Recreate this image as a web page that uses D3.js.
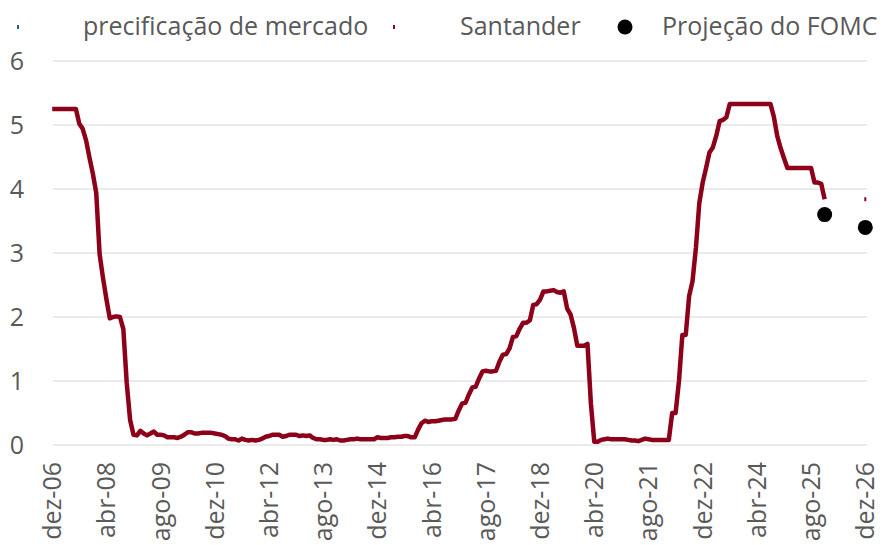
<!DOCTYPE html>
<html>
<head>
<meta charset="utf-8">
<script src="https://cdn.jsdelivr.net/npm/d3@7"></script>
<style>
  body { margin: 0; background: #fff; }
  text { font-family: "Open Sans", "Noto Sans", sans-serif; fill: #595959; }
</style>
</head>
<body>
<svg id="chartSVG" width="887" height="545"></svg>
<script>
// monthly categories, dez-06 .. dez-26
var monthNames = ["jan","fev","mar","abr","mai","jun","jul","ago","set","out","nov","dez"];
var months = [];
for (var i = 0; i <= 240; i++) {
    var m = (11 + i) % 12;
    var yr = 6 + Math.floor((11 + i) / 12);
    months.push(monthNames[m] + "-" + (yr < 10 ? "0" + yr : yr));
}

// tick labels on the x axis
var xTickLabels = ["dez-06","abr-08","ago-09","dez-10","abr-12","ago-13","dez-14","abr-16",
                   "ago-17","dez-18","abr-20","ago-21","dez-22","abr-24","ago-25","dez-26"];
var yTickLabels = [0, 1, 2, 3, 4, 5, 6];

// fed funds line (dez-06 .. dez-25)
var fedFunds = [
    5.25,
    5.25,5.25,5.25,5.25,5.25,5.25,5.25,5.02,4.94,4.76,4.49,4.24,   // 2007
    3.94,2.98,2.61,2.28,1.98,2.00,2.01,2.00,1.81,0.97,0.39,0.16,   // 2008
    0.15,0.22,0.18,0.15,0.18,0.21,0.16,0.16,0.15,0.12,0.12,0.12,   // 2009
    0.11,0.13,0.16,0.20,0.20,0.18,0.18,0.19,0.19,0.19,0.19,0.18,   // 2010
    0.17,0.16,0.14,0.10,0.09,0.09,0.07,0.10,0.08,0.07,0.08,0.07,   // 2011
    0.08,0.10,0.13,0.14,0.16,0.16,0.16,0.13,0.14,0.16,0.16,0.16,   // 2012
    0.14,0.15,0.14,0.15,0.11,0.09,0.09,0.08,0.08,0.09,0.08,0.09,   // 2013
    0.07,0.07,0.08,0.09,0.09,0.10,0.09,0.09,0.09,0.09,0.09,0.12,   // 2014
    0.11,0.11,0.11,0.12,0.12,0.13,0.13,0.14,0.14,0.12,0.12,0.24,   // 2015
    0.34,0.38,0.36,0.37,0.37,0.38,0.39,0.40,0.40,0.40,0.41,0.54,   // 2016
    0.65,0.66,0.79,0.90,0.91,1.04,1.15,1.16,1.15,1.15,1.16,1.30,   // 2017
    1.41,1.42,1.51,1.69,1.70,1.82,1.91,1.91,1.95,2.19,2.20,2.27,   // 2018
    2.40,2.40,2.41,2.42,2.39,2.38,2.40,2.13,2.04,1.83,1.55,1.55,   // 2019
    1.55,1.58,0.65,0.05,0.05,0.08,0.09,0.10,0.09,0.09,0.09,0.09,   // 2020
    0.09,0.08,0.07,0.07,0.06,0.08,0.10,0.09,0.08,0.08,0.08,0.08,   // 2021
    0.08,0.08,0.50,0.50,1.00,1.72,1.72,2.33,2.56,3.08,3.78,4.10,   // 2022
    4.33,4.57,4.65,4.83,5.06,5.08,5.12,5.33,5.33,5.33,5.33,5.33,   // 2023
    5.33,5.33,5.33,5.33,5.33,5.33,5.33,5.33,5.13,4.83,4.64,4.48,   // 2024
    4.33,4.33,4.33,4.33,4.33,4.33,4.33,4.33,4.10,4.10,4.08,3.84    // 2025
];

var fomcMonths = ["dez-25", "dez-26"];
var fomcValues = [3.6, 3.4];
var santanderMonths = ["dez-26"];
var santanderValues = [3.84];
var marketMonths = [];
var marketValues = [];

var lineColor = "#8c0019";
var fontSize = "25px";

var svg = d3.select("#chartSVG");

var xScale = d3.scaleBand()
            .domain(months)
            .range([50.5, 867])
            .padding(0);

var xPos = function(m){ return xScale(m) + xScale.bandwidth() / 2; };

var yScale = d3.scaleLinear()
            .domain([0, 6])
            .range([445, 61]);

// gridlines
svg.append("g")
    .attr("class", "grid")
    .selectAll("line")
    .data(yTickLabels).enter()
    .append("line")
    .attr("x1", 53).attr("x2", 867)
    .attr("y1", function(d){ return yScale(d); })
    .attr("y2", function(d){ return yScale(d); })
    .attr("stroke", "#ebebeb")
    .attr("stroke-width", 2);

// y axis
var yAxis = svg.append("g")
    .attr("transform", "translate(24,0)")
    .call(d3.axisLeft(yScale).tickValues(yTickLabels).tickSize(0).tickPadding(0).tickFormat(d3.format("d")));
yAxis.select(".domain").remove();
yAxis.selectAll("text")
    .style("font-family", "'Open Sans', sans-serif")
    .style("font-size", fontSize)
    .attr("fill", "#595959");

// x axis
var xAxis = svg.append("g")
    .attr("transform", "translate(0,445)")
    .call(d3.axisBottom(xScale).tickValues(xTickLabels).tickSize(0));
xAxis.select(".domain").remove();
xAxis.selectAll("text")
    .attr("transform", "rotate(-90)")
    .attr("x", -17)
    .attr("y", 0)
    .attr("dy", "0.36em")
    .style("text-anchor", "end")
    .style("font-family", "'Open Sans', sans-serif")
    .style("font-size", fontSize)
    .attr("fill", "#595959");

// line
var line = d3.line()
    .x(function(d, i){ return xPos(months[i]); })
    .y(function(d){ return yScale(d); });

svg.append("path")
    .datum(fedFunds)
    .attr("d", line)
    .attr("fill", "none")
    .attr("stroke", lineColor)
    .attr("stroke-width", 4.5)
    .attr("stroke-linejoin", "round");

// santander marker
svg.selectAll(".santander")
    .data(santanderValues).enter()
    .append("rect")
    .attr("class", "santander")
    .attr("x", function(d, i){ return xPos(santanderMonths[i]) - 1; })
    .attr("y", function(d){ return yScale(d) - 2; })
    .attr("width", 2).attr("height", 4)
    .attr("fill", lineColor);

// market pricing (empty in the reference)
svg.selectAll(".market")
    .data(marketValues).enter()
    .append("rect")
    .attr("class", "market")
    .attr("x", function(d, i){ return xPos(marketMonths[i]) - 1; })
    .attr("y", function(d){ return yScale(d) - 2; })
    .attr("width", 2).attr("height", 4)
    .attr("fill", "#1f5f8b");

// FOMC dots
svg.selectAll(".fomc")
    .data(fomcValues).enter()
    .append("circle")
    .attr("class", "fomc")
    .attr("cx", function(d, i){ return xPos(fomcMonths[i]); })
    .attr("cy", function(d){ return yScale(d); })
    .attr("r", 7.5)
    .attr("fill", "#000");

// legend
var legend = svg.append("g").attr("class", "legend");
legend.append("rect").attr("x", 17).attr("y", 25).attr("width", 2).attr("height", 4).attr("fill", "#1f5f8b");
legend.append("text").attr("x", 83).attr("y", 35).text("precificação de mercado");
legend.append("rect").attr("x", 393).attr("y", 25).attr("width", 2).attr("height", 4).attr("fill", lineColor);
legend.append("text").attr("x", 460).attr("y", 35).text("Santander");
legend.append("circle").attr("cx", 625).attr("cy", 27).attr("r", 7.5).attr("fill", "#000");
legend.append("text").attr("x", 662).attr("y", 35).text("Projeção do FOMC");
legend.selectAll("text").style("font-size", fontSize);
</script>
</body>
</html>
